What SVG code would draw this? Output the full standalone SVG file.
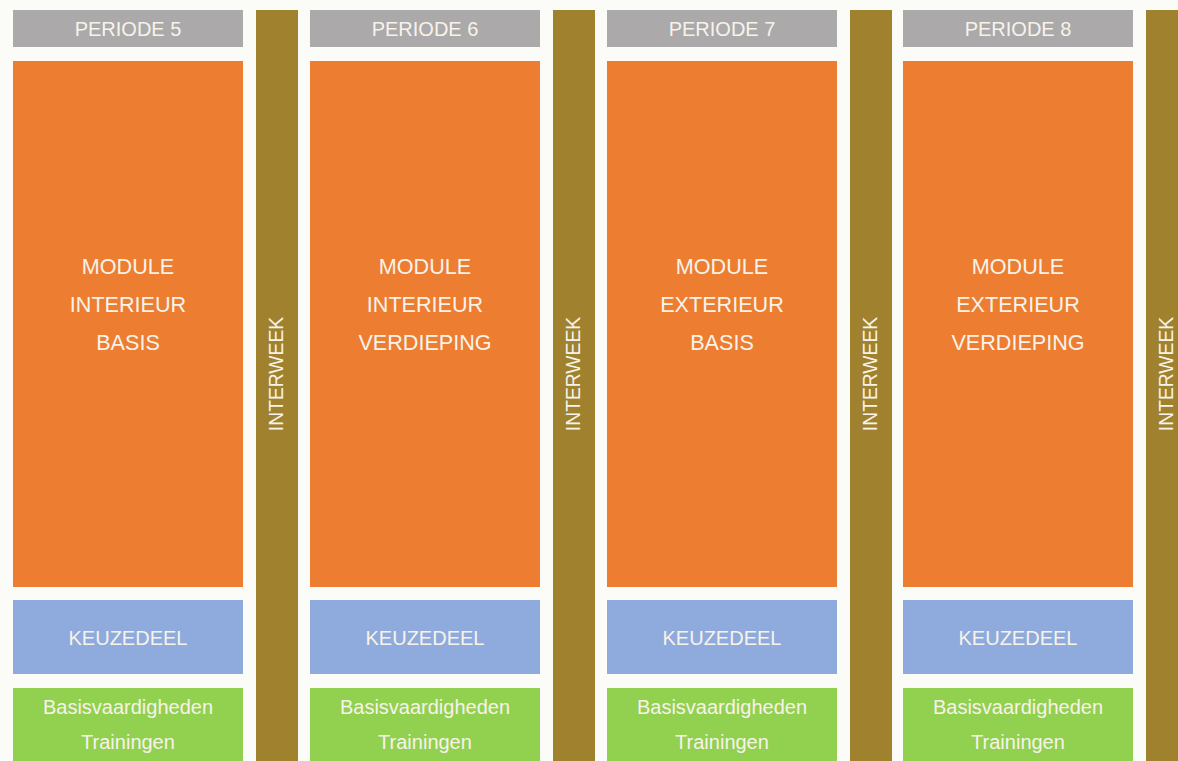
<svg xmlns="http://www.w3.org/2000/svg" width="1178" height="761" viewBox="0 0 1178 761">
<style>
text{font-family:"Liberation Sans",Arial,sans-serif;fill:#F7F3EA;text-anchor:middle}
.hd{fill:#ABA9AA}.md{fill:#ED7D31}.kz{fill:#8FAADC}.bv{fill:#92D050}.iw{fill:#A0822E}
.t1{font-size:20px}.t2{font-size:21.6px}.t3{font-size:20px}.t4{font-size:20px}.t5{font-size:19.3px}
</style>
<rect width="1178" height="761" fill="#FBFBF8"/>
<g id="col5">
<rect class="hd" x="13" y="10" width="230" height="37"/><text class="t1" x="128" y="36">PERIODE 5</text>
<rect class="md" x="13" y="61" width="230" height="526"/>
<text class="t2" x="128" y="274">MODULE</text><text class="t2" x="128" y="312">INTERIEUR</text><text class="t2" x="128" y="350">BASIS</text>
<rect class="kz" x="13" y="600" width="230" height="74"/><text class="t3" x="128" y="645">KEUZEDEEL</text>
<rect class="bv" x="13" y="688" width="230" height="73"/><text class="t4" x="128" y="714">Basisvaardigheden</text><text class="t4" x="128" y="749">Trainingen</text>
</g>
<g id="col6">
<rect class="hd" x="310" y="10" width="230" height="37"/><text class="t1" x="425" y="36">PERIODE 6</text>
<rect class="md" x="310" y="61" width="230" height="526"/>
<text class="t2" x="425" y="274">MODULE</text><text class="t2" x="425" y="312">INTERIEUR</text><text class="t2" x="425" y="350">VERDIEPING</text>
<rect class="kz" x="310" y="600" width="230" height="74"/><text class="t3" x="425" y="645">KEUZEDEEL</text>
<rect class="bv" x="310" y="688" width="230" height="73"/><text class="t4" x="425" y="714">Basisvaardigheden</text><text class="t4" x="425" y="749">Trainingen</text>
</g>
<g id="col7">
<rect class="hd" x="607" y="10" width="230" height="37"/><text class="t1" x="722" y="36">PERIODE 7</text>
<rect class="md" x="607" y="61" width="230" height="526"/>
<text class="t2" x="722" y="274">MODULE</text><text class="t2" x="722" y="312">EXTERIEUR</text><text class="t2" x="722" y="350">BASIS</text>
<rect class="kz" x="607" y="600" width="230" height="74"/><text class="t3" x="722" y="645">KEUZEDEEL</text>
<rect class="bv" x="607" y="688" width="230" height="73"/><text class="t4" x="722" y="714">Basisvaardigheden</text><text class="t4" x="722" y="749">Trainingen</text>
</g>
<g id="col8">
<rect class="hd" x="903" y="10" width="230" height="37"/><text class="t1" x="1018" y="36">PERIODE 8</text>
<rect class="md" x="903" y="61" width="230" height="526"/>
<text class="t2" x="1018" y="274">MODULE</text><text class="t2" x="1018" y="312">EXTERIEUR</text><text class="t2" x="1018" y="350">VERDIEPING</text>
<rect class="kz" x="903" y="600" width="230" height="74"/><text class="t3" x="1018" y="645">KEUZEDEEL</text>
<rect class="bv" x="903" y="688" width="230" height="73"/><text class="t4" x="1018" y="714">Basisvaardigheden</text><text class="t4" x="1018" y="749">Trainingen</text>
</g>
<g id="interweek1"><rect class="iw" x="256" y="10" width="42" height="751"/><text class="t5" transform="translate(283 374) rotate(-90)">INTERWEEK</text></g>
<g id="interweek2"><rect class="iw" x="553" y="10" width="42" height="751"/><text class="t5" transform="translate(580 374) rotate(-90)">INTERWEEK</text></g>
<g id="interweek3"><rect class="iw" x="850" y="10" width="42" height="751"/><text class="t5" transform="translate(877 374) rotate(-90)">INTERWEEK</text></g>
<g id="interweek4"><rect class="iw" x="1146" y="10" width="42" height="751"/><text class="t5" transform="translate(1173 374) rotate(-90)">INTERWEEK</text></g>
<g id="connectors"/>
</svg>
